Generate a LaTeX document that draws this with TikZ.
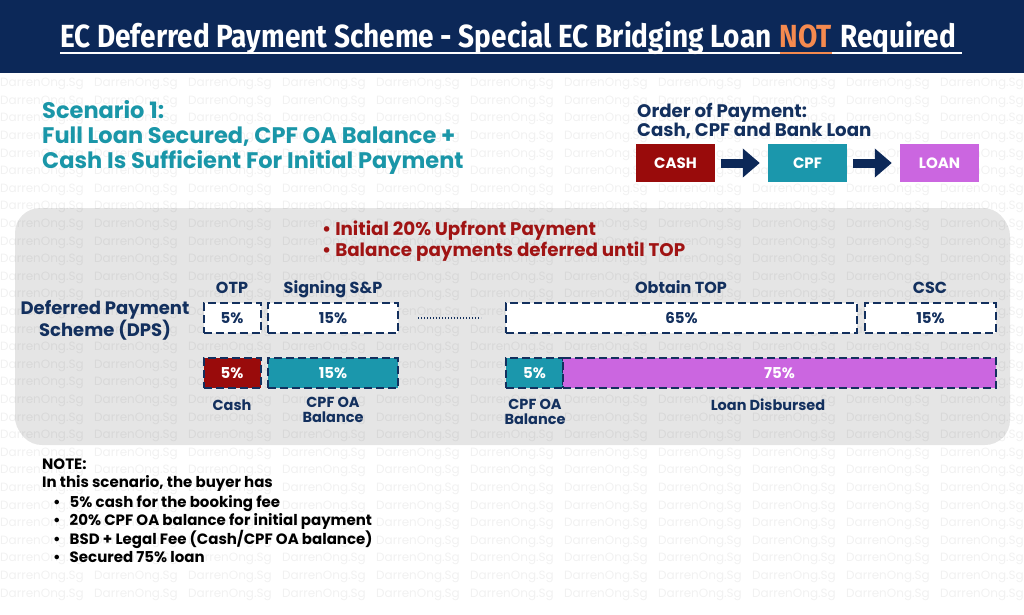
\documentclass[tikz,border=0pt]{standalone}
\usepackage{fontspec}
\setmainfont{Poppins}
\newfontfamily\titlefont[FakeStretch=0.875]{Fira Sans}
\usetikzlibrary{arrows.meta}
\usetikzlibrary{positioning}
\definecolor{navyband}{HTML}{0C2858}
\definecolor{dpsnavy}{HTML}{13305E}
\definecolor{tealtext}{HTML}{1A96A8}
\definecolor{cpfteal}{HTML}{1B97AC}
\definecolor{cashred}{HTML}{990B0B}
\definecolor{loanviolet}{HTML}{CB66E0}
\definecolor{panelgrey}{HTML}{E5E5E5}
\definecolor{bulletred}{HTML}{A01414}
\definecolor{notorange}{HTML}{F58A4F}
\tikzset{titletext/.style = {inner sep = 0, text = white, font = \titlefont\fontsize{32}{38}\selectfont\bfseries}}
\tikzset{wmark/.style = {inner sep = 0, text = black, opacity = 0.055, font = \fontsize{12}{12}\selectfont}}
\tikzset{paybox/.style = {inner sep = 0, minimum width = 79, minimum height = 38, text = white, font = \fontsize{15}{18}\selectfont\bfseries}}
\tikzset{payarrow/.style = {navyband, line width = 9pt, -{Triangle[length = 17pt, width = 28pt]}, shorten <= 6pt, shorten >= 8pt}}
\tikzset{dashbox/.style = {draw = dpsnavy, dash pattern = on 8pt off 4pt, line width = 2pt, inner sep = 0, minimum height = 30, font = \fontsize{15}{18}\selectfont\bfseries}}
\tikzset{stagetext/.style = {inner sep = 0, anchor = base, text = dpsnavy, font = \fontsize{16}{18}\selectfont\bfseries}}
\tikzset{barlabel/.style = {inner sep = 0, align = center, text = dpsnavy, font = \fontsize{14.5}{15}\selectfont\bfseries}}

\begin{document}
\begin{tikzpicture}[x = 1pt, y = -1pt]
    \useasboundingbox (0, 0) rectangle (1024, 614);

    % title band and grey panel
    \fill [navyband] (0, 0) rectangle (1024, 73);
    \fill [black!10, rounded corners = 25pt] (17, 211) rectangle (1010, 445);
    \fill [panelgrey, rounded corners = 25pt] (15, 208) rectangle (1008, 442);

    % watermark
    \foreach \r in {0, ..., 29}
      \foreach \c in {0, ..., 10}
        \node [wmark] (wm-\r-\c) at (42 + \c * 94, 84 + \r * 17.6) {DarrenOng.Sg};

    % title
    \node [titletext, anchor = base west] (titleleft) at (60, 47) {EC Deferred Payment Scheme - Special EC Bridging Loan};
    \node [titletext, text = notorange, base right = 8pt of titleleft] (titlenot) {NOT};
    \node [titletext, base right = 8pt of titlenot] (titleright) {Required};
    \draw [white, line width = 2.5pt] ([yshift = -6pt] titleleft.base west) -- ([yshift = -6pt] titlenot.base west);
    \draw [notorange, line width = 2.5pt] ([yshift = -6pt] titlenot.base west) -- ([yshift = -6pt] titlenot.base east);
    \draw [white, line width = 2.5pt] ([yshift = -6pt] titlenot.base east) -- ([yshift = -6pt, xshift = 6pt] titleright.base east);

    % scenario and order of payment
    \node [inner sep = 0, anchor = north west, align = left, text = tealtext, font = \fontsize{22.5}{25}\selectfont\bfseries] (scenario) at (42, 100) {Scenario 1:\\Full Loan Secured, CPF OA Balance +\\Cash Is Sufficient For Initial Payment};
    \node [inner sep = 0, anchor = north west, align = left, text = dpsnavy, font = \fontsize{18.2}{19.5}\selectfont\bfseries] (ordertitle) at (637, 103) {Order of Payment:\\Cash, CPF and Bank Loan};

    \node [paybox, fill = cashred] (cashpay) at (675.5, 163) {CASH};
    \node [paybox, fill = cpfteal] (cpfpay) at (807.5, 163) {CPF};
    \node [paybox, fill = loanviolet] (loanpay) at (939.5, 163) {LOAN};
    \draw [payarrow] (cashpay) -- (cpfpay);
    \draw [payarrow] (cpfpay) -- (loanpay);

    % deferred payment scheme
    \node [inner sep = 0, anchor = north west, align = left, text = bulletred, font = \fontsize{18.3}{20.5}\selectfont\bfseries] (bullets) at (322, 221) {• Initial 20\% Upfront Payment\\• Balance payments deferred until TOP};
    \node [inner sep = 0, align = center, text = dpsnavy, font = \fontsize{18}{18.5}\selectfont\bfseries] (dpslabel) at (105, 320) {Deferred Payment\\Scheme (DPS)};

    \node [stagetext] (otphead) at (232, 293) {OTP};
    \node [stagetext] (snphead) at (333, 293) {Signing S\&P};
    \node [stagetext] (tophead) at (681, 293) {Obtain TOP};
    \node [stagetext] (cschead) at (930, 293) {CSC};

    \node [dashbox, fill = white, text = dpsnavy, minimum width = 57] (otp) at (232, 318) {5\%};
    \node [dashbox, fill = white, text = dpsnavy, minimum width = 130] (snp) at (333, 318) {15\%};
    \node [dashbox, fill = white, text = dpsnavy, minimum width = 351] (top) at (681.5, 318) {65\%};
    \node [dashbox, fill = white, text = dpsnavy, minimum width = 131] (csc) at (930.5, 318) {15\%};
    \draw [dpsnavy, line width = 1.3pt, dash pattern = on 1.3pt off 1.7pt, shorten <= 19pt, shorten >= 24pt] (snp) -- (top);

    \node [dashbox, fill = cashred, text = white, minimum width = 57] (cashbar) at (232, 373) {5\%};
    \node [dashbox, fill = cpfteal, text = white, minimum width = 130] (cpfbar) at (333, 373) {15\%};
    \node [dashbox, fill = cpfteal, text = white, minimum width = 57] (cpfbarb) at (534.5, 373) {5\%};
    \node [dashbox, fill = loanviolet, text = white, minimum width = 433] (loanbar) at (779.5, 373) {75\%};

    \node [barlabel, anchor = base] (cashlab) at (232, 410) {Cash};
    \node [barlabel, anchor = north] (cpflab) at (333, 397) {CPF OA\\Balance};
    \node [barlabel, anchor = north] (cpflabb) at (535, 399) {CPF OA\\Balance};
    \node [barlabel, anchor = base] (loanlab) at (768, 410) {Loan Disbursed};

    % note
    \node [inner sep = 0, anchor = north west, align = left, text = black, font = \fontsize{15}{18}\selectfont\bfseries] (note) at (42, 459) {NOTE:\\In this scenario, the buyer has};
    \node [inner sep = 0, anchor = north west, align = left, text = black, font = \fontsize{15}{18}\selectfont\bfseries] (notelist) at (53, 495) {•\hspace{9pt}5\% cash for the booking fee\\•\hspace{9pt}20\% CPF OA balance for initial payment\\•\hspace{9pt}BSD + Legal Fee (Cash/CPF OA balance)\\•\hspace{9pt}Secured 75\% loan};
  \end{tikzpicture}
\end{document}
